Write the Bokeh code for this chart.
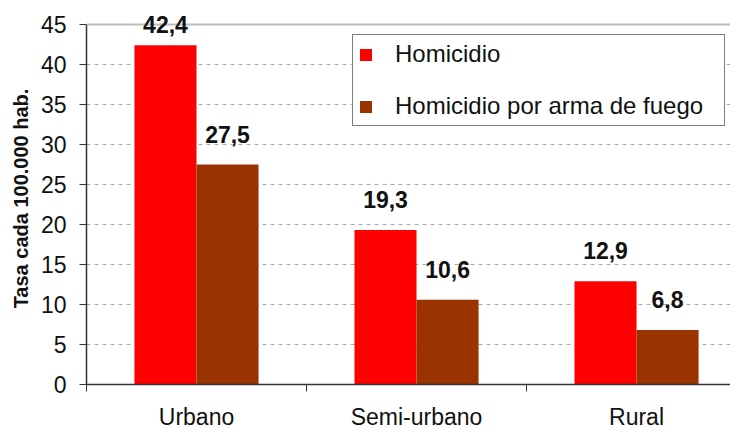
from bokeh.plotting import figure
from bokeh.models import Range1d, FixedTicker, LabelSet, ColumnDataSource, Span
from bokeh.core.properties import value
from bokeh.embed import file_html
from bokeh.resources import INLINE

# ---- data ----
categories = ["Urbano", "Semi-urbano", "Rural"]
homicidio = [42.4, 19.3, 12.9]
homicidio_arma = [27.5, 10.6, 6.8]
series_names = ["Homicidio", "Homicidio por arma de fuego"]
y_ticks = [0, 5, 10, 15, 20, 25, 30, 35, 40, 45]
y_title = "Tasa cada 100.000 hab."

# ---- styles ----
RED = "#FF0000"
BROWN = "#993300"
FONT = "Liberation Sans"
bar_w = 0.282
y_headroom = 1.5
label_off_h = [12, 22, 22]
label_off_a = [22, 22, 22]

xs = list(range(len(categories)))
x_h = [i - bar_w / 2 for i in xs]
x_a = [i + bar_w / 2 for i in xs]

fmt = lambda v: f"{v:.1f}".replace(".", ",")

src_h = ColumnDataSource(dict(x=x_h, top=homicidio, lbl=[fmt(v) for v in homicidio], off=label_off_h))
src_a = ColumnDataSource(dict(x=x_a, top=homicidio_arma, lbl=[fmt(v) for v in homicidio_arma], off=label_off_a))

p = figure(width=730, height=432, x_range=Range1d(-0.5, 2.427),
           y_range=Range1d(y_ticks[0], y_ticks[-1] + y_headroom),
           output_backend="svg", toolbar_location=None,
           min_border_left=86, min_border_right=0, min_border_top=12, min_border_bottom=47)
p.background_fill_color = "white"
p.border_fill_color = "white"
p.outline_line_color = None

p.vbar(x="x", top="top", width=bar_w, source=src_h, fill_color=RED, line_color=None, legend_label=series_names[0])
p.vbar(x="x", top="top", width=bar_w, source=src_a, fill_color=BROWN, line_color=None, legend_label=series_names[1])

# top border line of the plot area
p.add_layout(Span(location=y_ticks[-1], dimension="width", line_color="#bdbdbd", line_width=2))

for s in (src_h, src_a):
    p.add_layout(LabelSet(x="x", y="top", text="lbl", source=s, y_offset="off",
                          text_align="center", text_baseline="alphabetic",
                          text_font=value(FONT), text_font_size=value("23px"),
                          text_font_style="bold", text_color="#111111"))

# grid
p.xgrid.grid_line_color = None
p.ygrid.ticker = FixedTicker(ticks=y_ticks[1:-1])
p.ygrid.grid_line_color = "#aaaaaa"
p.ygrid.grid_line_dash = "4 4"
p.ygrid.grid_line_width = 1

# y axis
ya = p.yaxis[0]
ya.ticker = FixedTicker(ticks=y_ticks)
ya.bounds = (y_ticks[0], y_ticks[-1])
ya.axis_line_color = "#333333"
ya.axis_line_width = 1.5
ya.major_tick_line_color = "#333333"
ya.major_tick_out = 7
ya.major_tick_in = 0
ya.minor_tick_line_color = None
ya.major_label_standoff = 13
ya.major_label_text_font = FONT
ya.major_label_text_font_size = "23px"
ya.major_label_text_color = "#111111"
ya.axis_label = y_title
ya.axis_label_text_font = FONT
ya.axis_label_text_font_size = "20px"
ya.axis_label_text_font_style = "bold"
ya.axis_label_text_color = "#111111"
ya.axis_label_standoff = 6

# x axis
xa = p.xaxis[0]
xa.ticker = FixedTicker(ticks=xs, minor_ticks=[i - 0.5 for i in xs] + [xs[-1] + 0.5])
xa.major_label_overrides = {i: c for i, c in zip(xs, categories)}
xa.axis_line_color = "#333333"
xa.axis_line_width = 1.5
xa.major_tick_out = 0
xa.major_tick_in = 0
xa.minor_tick_line_color = "#333333"
xa.minor_tick_out = 7
xa.minor_tick_in = 0
xa.major_label_standoff = 12
xa.major_label_text_font = FONT
xa.major_label_text_font_size = "23px"
xa.major_label_text_color = "#111111"

# legend
lg = p.legend[0]
lg.location = (266, 258)
lg.margin = 0
lg.padding = 5
lg.spacing = 24
lg.label_height = 26
lg.glyph_width = 15
lg.glyph_height = 15
lg.label_standoff = 22
lg.label_width = 324
lg.label_text_font = FONT
lg.label_text_font_size = "24px"
lg.label_text_color = "#111111"
lg.border_line_color = "black"
lg.border_line_width = 1
lg.background_fill_color = "white"
lg.background_fill_alpha = 1

open("out.html", "w").write(file_html(p, INLINE))
